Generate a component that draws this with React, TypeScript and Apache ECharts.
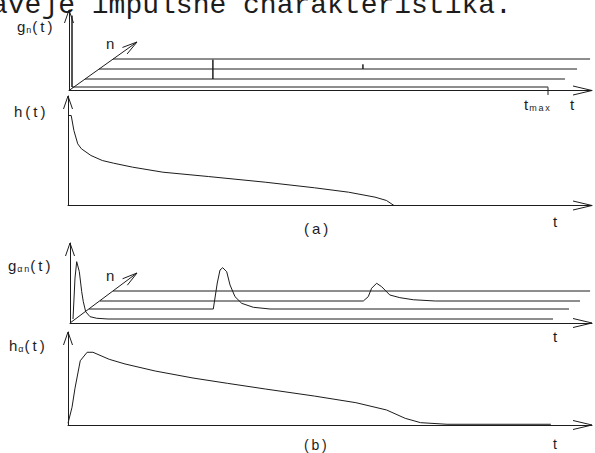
import React, { useEffect, useRef } from 'react';
import * as echarts from 'echarts';

// ---------------- data (t in units where t_max = 100, amplitudes relative) ----------------
const T_MAX = 100;

// (a) g_n(t): one Dirac impulse per slice n
const impulseTimesA = [0, 26.7, 55.1];
const impulseHeightsA = [0.82, 0.244, 0.067];
const sliceEndsA = [99.4, 100.2, 99.8, 99.6];

// (a) h(t)
const hTimes = [0, 0.67, 1.23, 2.03, 2.8, 4.78, 7.16, 9.52, 13.49, 19.81, 29.29, 41.17, 51.44, 58.56, 64.09, 66.47, 68.06, 100.8];
const hValues = [1.0, 1.0, 0.833, 0.685, 0.63, 0.556, 0.5, 0.47, 0.426, 0.37, 0.322, 0.259, 0.197, 0.148, 0.093, 0.056, 0, 0];

// (b) g_alpha_n(t): smoothed pulses
const pulse1Times = [0, 0.42, 0.77, 1.32, 1.82, 2.15, 2.65, 3.55, 4.95, 7.3, 102.7];
const pulse1Values = [0, 0.456, 0.637, 0.526, 0.303, 0.192, 0.081, 0.026, 0.008, 0, 0];
const pulse2Times = [0, 25.95, 26.78, 27.35, 27.91, 28.75, 29.44, 30.48, 31.88, 34.3, 37.8, 105.4];
const pulse2Values = [0, 0, 0.289, 0.433, 0.459, 0.414, 0.267, 0.137, 0.063, 0.019, 0, 0];
const pulse3Times = [0, 54.97, 56.0, 56.7, 57.75, 58.8, 60.5, 62.6, 65.4, 70, 103.1];
const pulse3Values = [0, 0, 0.048, 0.141, 0.197, 0.159, 0.067, 0.037, 0.014, 0, 0];
const pulse4Times = [0, 99.6];
const pulse4Values = [0, 0];

// (b) h_alpha(t)
const haTimes = [0, 0.84, 1.46, 2.56, 3.99, 5.2, 8.6, 11.9, 18.2, 26.1, 33.3, 41.2, 51.4, 60.1, 66.5, 70.4, 73.6, 79.1, 100.8];
const haValues = [0.02, 0.197, 0.408, 0.714, 0.808, 0.808, 0.73, 0.678, 0.6, 0.522, 0.463, 0.4, 0.322, 0.248, 0.167, 0.074, 0.026, 0.008, 0.008];

// labels
const TITLE = 'aveje impulsne charakteristika.';
const TS = '\u2009'; // thin space, imitates the letter-spaced labels

// ---------------- layout ----------------
const L = {
  pxPerT: 4.79,
  pxPerAmp: 90,
  tipX: 592,
  ga: { ox: 69, oy: 90.5, tipY: 10 },
  ha: { ox: 68, oy: 205.5, tipY: 96 },
  gb: { ox: 70, oy: 323, tipY: 243 },
  hb: { ox: 68, oy: 425, tipY: 332 },
  slicesA: [[72, 87], [85, 79], [99, 69], [113, 59]],
  slicesB: [[73, 319], [89, 309], [100, 301], [113, 291]],
  nTipA: [137, 42],
  nTipB: [137, 273],
};

const INK = '#1c1c1c';
const SANS = '"Liberation Sans", Arial, sans-serif';

function zip(ts: number[], vs: number[]) {
  return ts.map((t, i) => [t, vs[i]]);
}

function arrowHead(tip: number[], from: number[], len: number, half: number) {
  const dx = tip[0] - from[0];
  const dy = tip[1] - from[1];
  const d = Math.hypot(dx, dy);
  const ux = dx / d, uy = dy / d;
  const px = -uy, py = ux;
  return [
    [tip[0] - ux * len + px * half, tip[1] - uy * len + py * half],
    [tip[0], tip[1]],
    [tip[0] - ux * len - px * half, tip[1] - uy * len - py * half],
  ];
}

function buildOption() {
  const grid: any[] = [];
  const xAxis: any[] = [];
  const yAxis: any[] = [];
  const series: any[] = [];
  const graphic: any[] = [];

  const lineSeries = (idx: number, data: number[][]) => ({
    type: 'line',
    xAxisIndex: idx,
    yAxisIndex: idx,
    data,
    symbol: 'none',
    showSymbol: false,
    clip: false,
    silent: true,
    lineStyle: { color: INK, width: 1 },
  });

  const addMain = (p: any) => {
    const idx = grid.length;
    const w = L.tipX - p.ox;
    const h = p.oy - p.tipY;
    grid.push({ left: p.ox, top: p.tipY, width: w, height: h });
    const common = {
      gridIndex: idx,
      type: 'value',
      min: 0,
      axisLine: { show: true, onZero: false, lineStyle: { color: INK, width: 1 } },
      axisTick: { show: false },
      axisLabel: { show: false },
      splitLine: { show: false },
    };
    xAxis.push({ ...common, max: w / L.pxPerT });
    yAxis.push({ ...common, max: h / L.pxPerAmp });
    graphic.push({
      type: 'polyline', silent: true,
      shape: { points: arrowHead([L.tipX, p.oy], [p.ox, p.oy], 19, 4.5) },
      style: { stroke: INK, lineWidth: 1, fill: null },
    });
    graphic.push({
      type: 'polyline', silent: true,
      shape: { points: arrowHead([p.ox, p.tipY], [p.ox, p.oy], 13, 4.5) },
      style: { stroke: INK, lineWidth: 1, fill: null },
    });
    return idx;
  };

  // each depth slice n gets its own small grid (same time scale), shifted along the n direction
  const SLICE_T = 100;
  const addSlice = (x0: number, y0: number) => {
    const idx = grid.length;
    grid.push({ left: x0, top: y0 - L.pxPerAmp, width: SLICE_T * L.pxPerT, height: L.pxPerAmp });
    xAxis.push({ gridIndex: idx, type: 'value', min: 0, max: SLICE_T, show: false });
    yAxis.push({ gridIndex: idx, type: 'value', min: 0, max: 1, show: false });
    return idx;
  };

  const addN = (origin: number[], tip: number[]) => {
    graphic.push({
      type: 'line', silent: true,
      shape: { x1: origin[0], y1: origin[1], x2: tip[0], y2: tip[1] },
      style: { stroke: INK, lineWidth: 1 },
    });
    graphic.push({
      type: 'polyline', silent: true,
      shape: { points: arrowHead(tip, origin, 15, 4) },
      style: { stroke: INK, lineWidth: 1, fill: null },
    });
  };

  // ---- panel (a), g_n(t)
  const gaIdx = addMain(L.ga);
  series.push(lineSeries(gaIdx, [[T_MAX, -0.05], [T_MAX, 0.035]]));
  addN([L.ga.ox, L.ga.oy], L.nTipA);
  L.slicesA.forEach((s, n) => {
    const idx = addSlice(s[0], s[1]);
    const data: number[][] = [[0, 0]];
    if (n < impulseTimesA.length) {
      const t = impulseTimesA[n];
      data.push([t, 0], [t, impulseHeightsA[n]], [t, 0]);
    }
    data.push([sliceEndsA[n], 0]);
    series.push(lineSeries(idx, data));
  });

  // ---- panel (a), h(t)
  const haIdx = addMain(L.ha);
  series.push(lineSeries(haIdx, zip(hTimes, hValues)));

  // ---- panel (b), g_alpha_n(t)
  const gbIdx = addMain(L.gb);
  series.push(lineSeries(gbIdx, []));
  addN([L.gb.ox, L.gb.oy], L.nTipB);
  const pulses = [
    zip(pulse1Times, pulse1Values),
    zip(pulse2Times, pulse2Values),
    zip(pulse3Times, pulse3Values),
    zip(pulse4Times, pulse4Values),
  ];
  L.slicesB.forEach((s, n) => {
    const idx = addSlice(s[0], s[1]);
    series.push(lineSeries(idx, pulses[n]));
  });

  // ---- panel (b), h_alpha(t)
  const hbIdx = addMain(L.hb);
  series.push(lineSeries(hbIdx, zip(haTimes, haValues)));

  // ---- texts
  const txt = (x: number, y: number, text: string, size = 15, extra: any = {}) => ({
    type: 'text', silent: true, x, y,
    style: {
      text,
      fill: INK,
      font: `${size}px ${SANS}`,
      align: 'left', verticalAlign: 'middle',
      textAlign: 'left', textVerticalAlign: 'middle',
      ...extra,
    },
  });
  const richStyles = {
    m: { fontSize: 15, fontFamily: SANS, fill: INK, lineHeight: 16, verticalAlign: 'middle' },
    s: { fontSize: 9, fontFamily: SANS, fill: INK, lineHeight: 9, verticalAlign: 'bottom', padding: [0, 1, 0, 1] },
  };

  graphic.push({
    type: 'text', silent: true, x: -9, y: 5,
    style: {
      text: TITLE, fill: INK, font: '28px "Liberation Mono", "Courier New", monospace',
      lineHeight: 16,
      align: 'left', verticalAlign: 'middle', textAlign: 'left', textVerticalAlign: 'middle',
    },
  });
  graphic.push(txt(17, 26, `{m|g}{s|n}{m|(${TS}t${TS})}`, 15, { rich: richStyles }));
  graphic.push(txt(106, 43, 'n'));
  graphic.push(txt(524, 104, `{m|t}{s|m${TS}a${TS}x}`, 15, { rich: richStyles }));
  graphic.push(txt(570, 104, 't'));
  graphic.push(txt(14, 111, `h${TS}(${TS}t${TS})`));
  graphic.push(txt(553, 221, 't'));
  graphic.push(txt(304, 228, `(${TS}a${TS})`));

  graphic.push(txt(8, 265, `{m|g}{s|α${TS}n}{m|(${TS}t${TS})}`, 15, { rich: richStyles }));
  graphic.push(txt(106, 275, 'n'));
  graphic.push(txt(553, 336, 't'));
  graphic.push(txt(9, 345, `{m|h}{s|α}{m|(${TS}t${TS})}`, 15, { rich: richStyles }));
  graphic.push(txt(553, 444, 't', 14));
  graphic.push(txt(304, 445, `(${TS}b${TS})`, 14));

  return {
    animation: false,
    backgroundColor: '#ffffff',
    grid,
    xAxis,
    yAxis,
    series,
    graphic: { elements: graphic },
  };
}

export default function App() {
  const ref = useRef<HTMLDivElement | null>(null);
  useEffect(() => {
    document.body.style.margin = '0';
    if (!ref.current) return;
    const chart = echarts.init(ref.current, undefined, { renderer: 'svg' });
    chart.setOption(buildOption() as any);
    return () => chart.dispose();
  }, []);
  return (
    <div
      ref={ref}
      style={{ position: 'absolute', left: 0, top: 0, width: 595, height: 453, background: '#fff' }}
    />
  );
}
